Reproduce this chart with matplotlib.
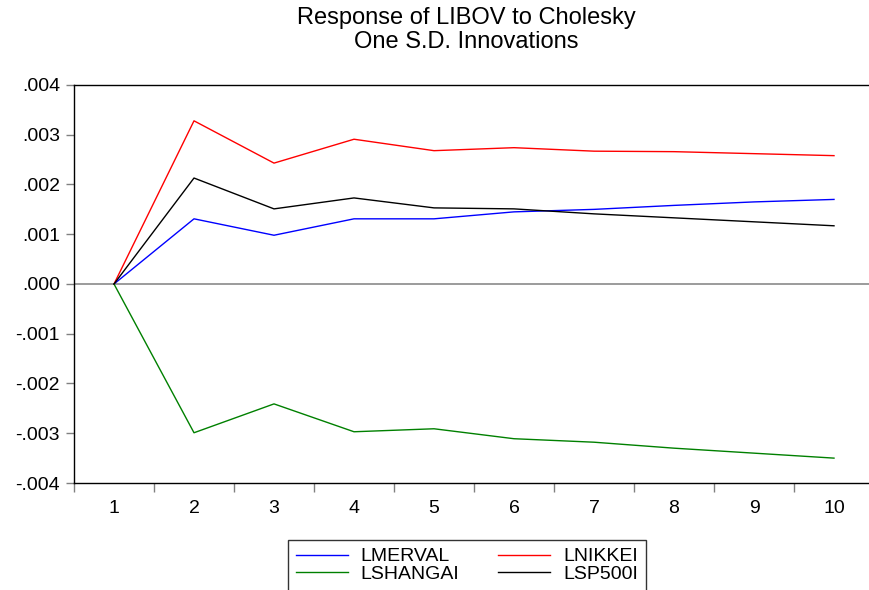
import numpy as np
import matplotlib
matplotlib.use("Agg")
import matplotlib.pyplot as plt
from matplotlib.ticker import FuncFormatter, FixedLocator

# impulse responses (periods 1..10)
periods = np.arange(1, 11)
lmerval = [0.0, 0.00131, 0.00098, 0.00131, 0.00131, 0.00145, 0.00150, 0.00158, 0.00165, 0.00170]
lnikkei = [0.0, 0.00328, 0.00243, 0.00291, 0.00268, 0.00274, 0.00267, 0.00266, 0.00262, 0.00258]
lshangai = [0.0, -0.00299, -0.00241, -0.00297, -0.00291, -0.00311, -0.00318, -0.00330, -0.00340, -0.00350]
lsp500i = [0.0, 0.00213, 0.00151, 0.00173, 0.00153, 0.00151, 0.00141, 0.00133, 0.00125, 0.00117]

plt.rcParams['font.family'] = ['Liberation Sans', 'DejaVu Sans']

fig = plt.figure(figsize=(8.69, 5.90), dpi=100)
ax = fig.add_axes([74/869, 1-483/590, 800/869, 398/590])

ax.axhline(0, color='#808080', lw=1.1, zorder=1)
l1, = ax.plot(periods, lmerval, color='#0000ff', lw=1.0, label='LMERVAL')
l2, = ax.plot(periods, lnikkei, color='#ff0000', lw=1.0, label='LNIKKEI')
l3, = ax.plot(periods, lshangai, color='#008000', lw=1.0, label='LSHANGAI')
l4, = ax.plot(periods, lsp500i, color='#000000', lw=1.0, label='LSP500I')

ax.set_xlim(0.5, 10.5)
ax.set_ylim(-0.004, 0.004)
ax.set_yticks(np.arange(-0.004, 0.0041, 0.001))

def fmt(v, pos):
    s = f"{v:.3f}"
    if s in ("-0.000", "0.000"):
        return ".000"
    return s.replace("0.", ".", 1)

ax.yaxis.set_major_formatter(FuncFormatter(fmt))
ax.set_xticks(periods)
ax.set_xticklabels([str(p) for p in periods])
ax.xaxis.set_minor_locator(FixedLocator(np.arange(0.5, 11, 1)))
ax.tick_params(axis='x', which='major', length=0, pad=12, labelsize=14)
ax.tick_params(axis='x', which='minor', length=6.5, width=1, color='#808080')
ax.tick_params(axis='y', length=6, width=1, color='#808080', pad=4, labelsize=14)
for side in ('left', 'bottom', 'top'):
    ax.spines[side].set_linewidth(1.0)
    ax.spines[side].set_color('black')
ax.spines['right'].set_visible(False)

fig.text(466/869, 1-7/590, 'Response of LIBOV to Cholesky\nOne S.D. Innovations',
         ha='center', va='top', fontsize=17, linespacing=1.12)

leg = fig.legend([l1, l3, l2, l4], ['LMERVAL', 'LSHANGAI', 'LNIKKEI', 'LSP500I'],
                 loc='upper left', bbox_to_anchor=(288/869, 1-540/590), ncol=2,
                 fontsize=14, frameon=True, fancybox=False, edgecolor='black',
                 handlelength=2.67, handletextpad=0.67, columnspacing=2.0,
                 labelspacing=0.0, borderpad=0.4, borderaxespad=0)
leg.get_frame().set_linewidth(1.0)

fig.savefig('out.png', dpi=100)
